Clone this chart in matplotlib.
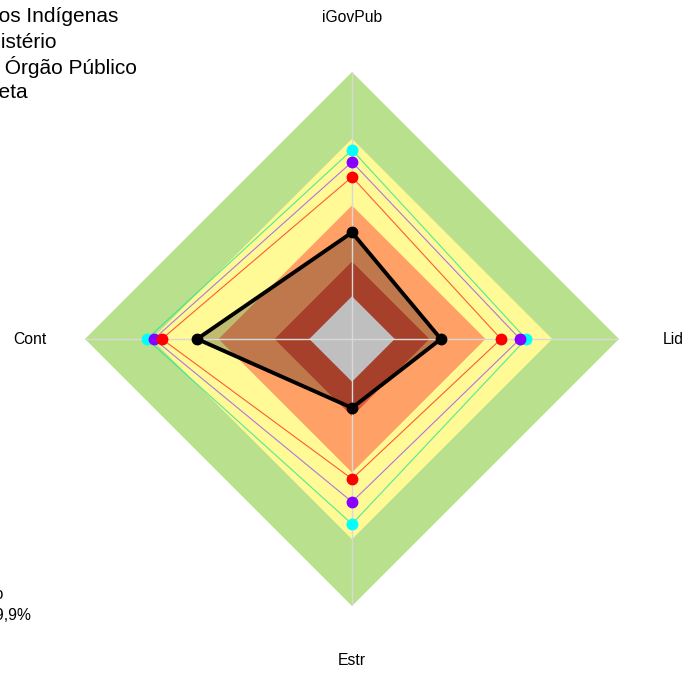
import numpy as np
import matplotlib
matplotlib.use("Agg")
import matplotlib.pyplot as plt

plt.rcParams['font.family'] = ['Liberation Sans', 'DejaVu Sans']

# eixos do radar
categorias = ["iGovPub", "Lid", "Estr", "Cont"]

# faixas de fundo (raio) e cores
faixas = [1.0, 0.75, 0.50, 0.29, 0.16]
cores_faixas = ["#B9E08C", "#FFFA96", "#FFA066", "#E0563A", "#FFFFFF"]

# séries
meta = [0.708, 0.652, 0.693, 0.768]
orgao_publico = [0.663, 0.629, 0.610, 0.742]
ministerio = [0.607, 0.558, 0.524, 0.712]
povos_indigenas = [0.399, 0.333, 0.258, 0.580]

nomes_legenda = ["Fundação Nacional dos Povos Indígenas", "Ministério",
                 "Média Órgão Público", "Meta"]


def xy(valores):
    ang = np.deg2rad(np.arange(len(valores)) * 360 / len(valores))
    v = np.array(valores, dtype=float)
    x = v * np.sin(ang)
    y = v * np.cos(ang)
    return np.append(x, x[0]), np.append(y, y[0])


def main() -> None:
    fig = plt.figure(figsize=(6.88, 6.73), dpi=100)
    ax = fig.add_axes([85 / 688, 67 / 673, 534 / 688, 534 / 673])
    ax.set_xlim(-1, 1)
    ax.set_ylim(-1, 1)
    ax.axis("off")

    # fundo em faixas
    for r, c in zip(faixas, cores_faixas):
        x, y = xy([r] * len(categorias))
        ax.fill(x, y, color=c, lw=0, zorder=1)

    # área da organização (preenchimento escuro translúcido)
    x, y = xy(povos_indigenas)
    ax.fill(x, y, color="black", alpha=0.25, lw=0, zorder=2)

    # linhas dos eixos
    for i in range(len(categorias)):
        um = [0] * len(categorias)
        um[i] = 1.0
        xa, ya = xy(um)
        ax.plot([0, xa[i]], [0, ya[i]], color="#D9D9D9", lw=1, zorder=3)

    # séries de referência
    for vals, c, cl in [(meta, "#00FFFF", "#20E890"),
                        (orgao_publico, "#8800FF", "#9955EE"),
                        (ministerio, "#FF0000", "#FF3320")]:
        x, y = xy(vals)
        ax.plot(x, y, color=cl, lw=0.8, alpha=0.8, zorder=4)
        ax.plot(x[:-1], y[:-1], "o", color=c, ms=7.5, zorder=5)

    x, y = xy(povos_indigenas)
    ax.plot(x, y, color="black", lw=2.8, zorder=6)
    ax.plot(x[:-1], y[:-1], "o", color="black", ms=7.5, zorder=7)

    # rótulos dos eixos
    for i, nome in enumerate(categorias):
        um = [0] * len(categorias)
        um[i] = 1.205
        xa, ya = xy(um)
        ax.text(xa[i], ya[i], nome, ha="center", va="center", fontsize=11.3,
                clip_on=False)

    # legenda (cortada na borda esquerda)
    fins = [118, 57, 137, 28]
    linhas_y = [16, 42, 67, 92]
    for nome, xf, yl in zip(nomes_legenda, fins, linhas_y):
        fig.text(xf / 688, 1 - yl / 673, nome, ha="right", va="center",
                 fontsize=15)

    fig.text(3 / 688, 1 - 594 / 673, "iGovPub da organização", ha="right",
             va="center", fontsize=11.3)
    fig.text(31 / 688, 1 - 615 / 673, "39,9%", ha="right", va="center",
             fontsize=11.3)

    fig.savefig("out.png", dpi=100)


if __name__ == '__main__':
    main()
